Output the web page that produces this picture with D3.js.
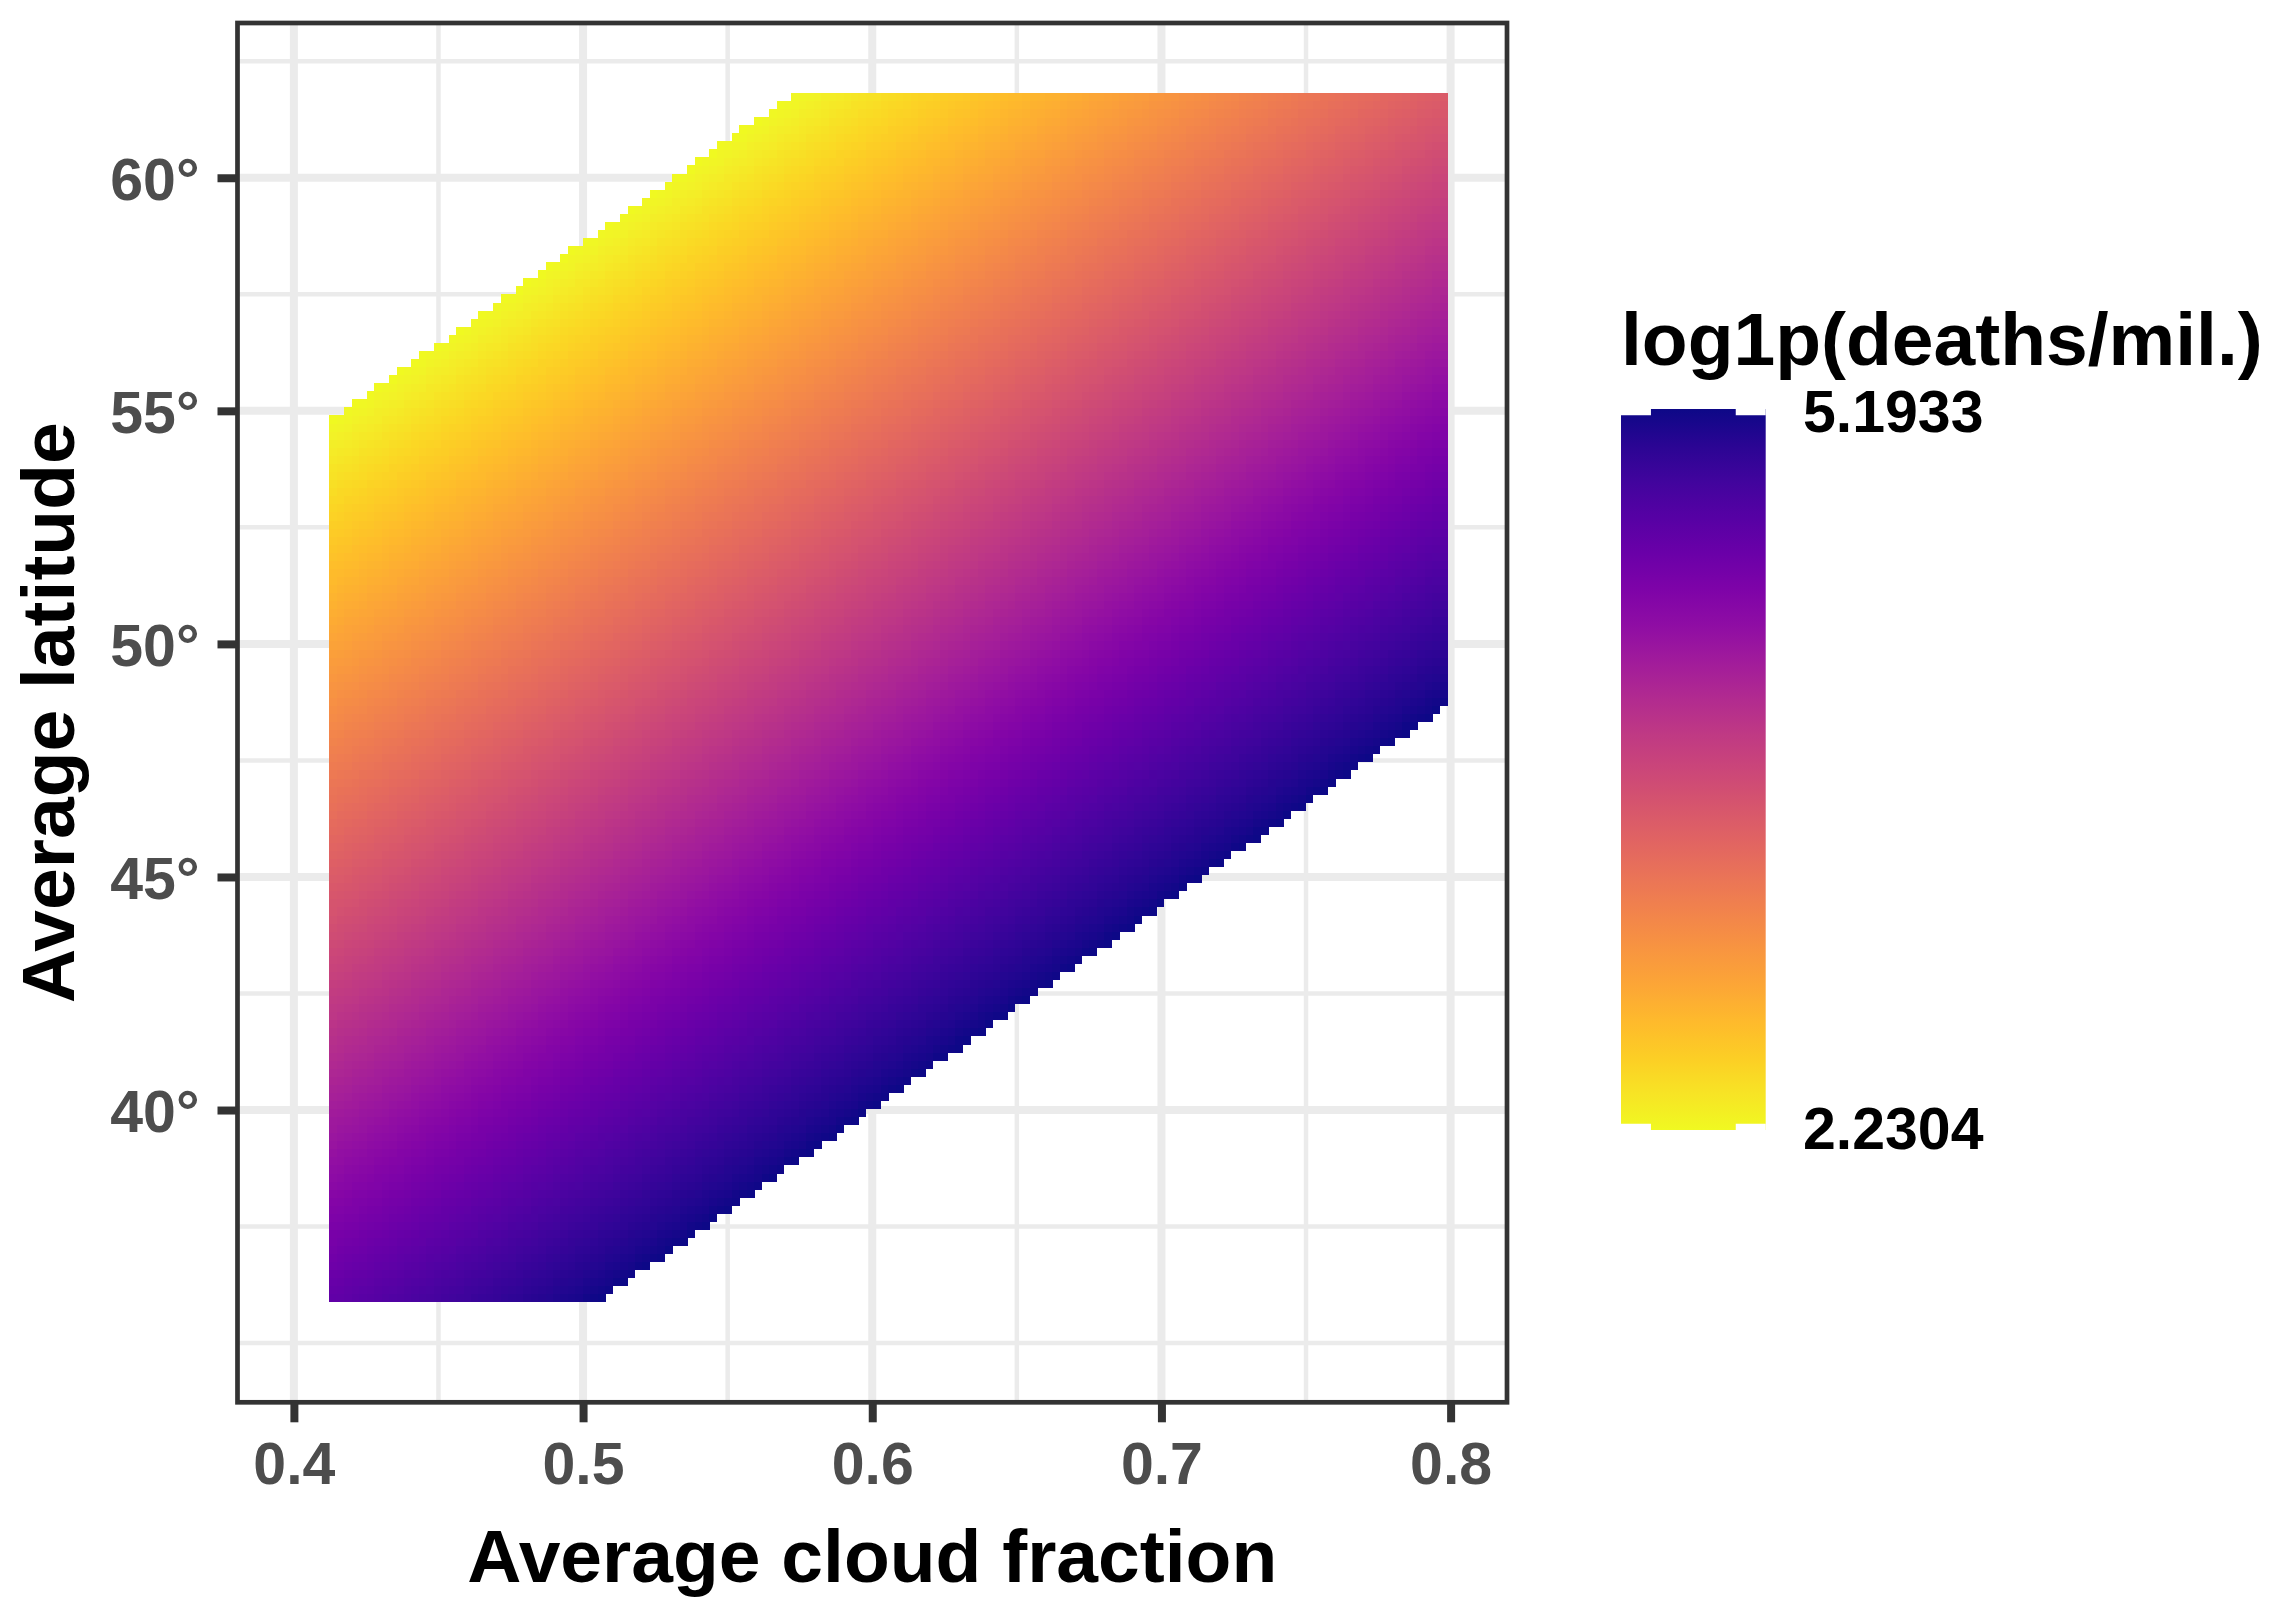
<!DOCTYPE html>
<html>
<head>
<meta charset="utf-8">
<script src="https://cdn.jsdelivr.net/npm/d3@7"></script>
<style>
  html, body { margin: 0; padding: 0; background: #ffffff; }
  svg { display: block; }
  text { font-family: "Liberation Sans", Arial, Helvetica, sans-serif; }
</style>
</head>
<body>
<svg id="chart" width="2280" height="1615"></svg>
<script>
// ---------------- data ----------------
// prediction grid extent (cell edges) and resolution
const cloudExtent = [0.4123, 0.7988];
const latitudeExtent = [35.88, 61.82];
const gridCells = [150, 150];               // columns (cloud), rows (latitude)
// fitted surface: intercept, cloud-fraction slope, latitude slope
const surfaceCoefficients = [6.9753, 5.628, -0.12893];
// colour-bar limits (observed range of log1p(deaths/mil.))
const valueLimits = [2.2304, 5.1933];
const legendLabels = ["5.1933", "2.2304"];
// axis ticks
const xTicks = [0.4, 0.5, 0.6, 0.7, 0.8];
const xMinor = [0.45, 0.55, 0.65, 0.75];
const yTicks = [40, 45, 50, 55, 60];
const yMinor = [35, 37.5, 42.5, 47.5, 52.5, 57.5, 62.5];
const xTitle = "Average cloud fraction";
const yTitle = "Average latitude";
const legendTitle = "log1p(deaths/mil.)";

// ---------------- layout ----------------
const panel = { left: 237.5, right: 1507, top: 23, bottom: 1402.3 };
const svg = d3.select("#chart");

const x = d3.scaleLinear().domain([0.3805, 0.8195]).range([panel.left, panel.right]);
const y = d3.scaleLinear().domain([33.73, 63.32]).range([panel.bottom, panel.top]);
const color = d3.scaleSequential(d3.interpolatePlasma).domain([valueLimits[1], valueLimits[0]]);

const GRID = "#EBEBEB", DARK = "#333333";

// grid lines
const g = svg.append("g");
g.selectAll(".vmin").data(xMinor).join("line")
  .attr("x1", d => x(d)).attr("x2", d => x(d))
  .attr("y1", panel.top).attr("y2", panel.bottom)
  .attr("stroke", GRID).attr("stroke-width", 4.5);
g.selectAll(".hmin").data(yMinor).join("line")
  .attr("y1", d => y(d)).attr("y2", d => y(d))
  .attr("x1", panel.left).attr("x2", panel.right)
  .attr("stroke", GRID).attr("stroke-width", 4.5);
g.selectAll(".vmaj").data(xTicks).join("line")
  .attr("x1", d => x(d)).attr("x2", d => x(d))
  .attr("y1", panel.top).attr("y2", panel.bottom)
  .attr("stroke", GRID).attr("stroke-width", 8);
g.selectAll(".hmaj").data(yTicks).join("line")
  .attr("y1", d => y(d)).attr("y2", d => y(d))
  .attr("x1", panel.left).attr("x2", panel.right)
  .attr("stroke", GRID).attr("stroke-width", 8);

// raster cells
const [nx, ny] = gridCells;
const dx = (cloudExtent[1] - cloudExtent[0]) / nx;
const dy = (latitudeExtent[1] - latitudeExtent[0]) / ny;
const [b0, b1, b2] = surfaceCoefficients;
const cells = [];
for (let i = 0; i < nx; i++) {
  for (let j = 0; j < ny; j++) {
    const cx = cloudExtent[0] + (i + 0.5) * dx;
    const cy = latitudeExtent[0] + (j + 0.5) * dy;
    const v = b0 + b1 * cx + b2 * cy;
    if (v >= valueLimits[0] - 1e-6 && v <= valueLimits[1] + 1e-6) {
      cells.push({ x0: cloudExtent[0] + i * dx, x1: cloudExtent[0] + (i + 1) * dx,
                   y0: latitudeExtent[0] + j * dy, y1: latitudeExtent[0] + (j + 1) * dy, v });
    }
  }
}
svg.append("g").attr("shape-rendering", "crispEdges")
  .selectAll("rect").data(cells).join("rect")
  .attr("x", d => x(d.x0))
  .attr("y", d => y(d.y1))
  .attr("width", d => x(d.x1) - x(d.x0) + 0.4)
  .attr("height", d => y(d.y0) - y(d.y1) + 0.4)
  .attr("fill", d => color(d.v));

// panel border
svg.append("rect")
  .attr("x", panel.left).attr("y", panel.top)
  .attr("width", panel.right - panel.left).attr("height", panel.bottom - panel.top)
  .attr("fill", "none").attr("stroke", DARK).attr("stroke-width", 4.7);

// axes
const xAxis = d3.axisBottom(x).tickValues(xTicks).tickSize(20).tickPadding(18)
  .tickFormat(d3.format(".1f"));
const xg = svg.append("g").attr("transform", `translate(0,${panel.bottom})`).call(xAxis);
const yAxis = d3.axisLeft(y).tickValues(yTicks).tickSize(20).tickPadding(18)
  .tickFormat(d => d + "°");
const yg = svg.append("g").attr("transform", `translate(${panel.left},0)`).call(yAxis);
[xg, yg].forEach(a => {
  a.select(".domain").remove();
  a.selectAll(".tick line").attr("stroke", DARK).attr("stroke-width", 8);
  a.selectAll(".tick text").attr("fill", "#4D4D4D")
    .style("font-size", "59px").style("font-weight", "bold")
    .style("font-family", '"Liberation Sans", Arial, sans-serif');
});
xg.selectAll(".tick text").attr("dy", null).attr("y", 0)
  .attr("dominant-baseline", "alphabetic").attr("transform", "translate(0,82)");
yg.selectAll(".tick text").attr("dy", "0.36em");

// axis titles
svg.append("text").text(xTitle)
  .attr("x", (panel.left + panel.right) / 2).attr("y", 1582)
  .attr("text-anchor", "middle").style("font-size", "75px").style("font-weight", "bold");
svg.append("text").text(yTitle)
  .attr("transform", `translate(74,${(panel.top + panel.bottom) / 2}) rotate(-90)`)
  .attr("text-anchor", "middle").style("font-size", "75px").style("font-weight", "bold");

// legend
const bar = { left: 1621, right: 1765.7, top: 409, bottom: 1130 };
svg.append("text").text(legendTitle)
  .attr("x", bar.left).attr("y", 365)
  .style("font-size", "75px").style("font-weight", "bold");

const defs = svg.append("defs");
const grad = defs.append("linearGradient").attr("id", "cbar")
  .attr("x1", 0).attr("x2", 0).attr("y1", 0).attr("y2", 1);
d3.range(0, 1.0001, 0.05).forEach(t => {
  grad.append("stop").attr("offset", t)
    .attr("stop-color", color(valueLimits[1] - t * (valueLimits[1] - valueLimits[0])));
});
svg.append("rect")
  .attr("x", bar.left).attr("y", bar.top)
  .attr("width", bar.right - bar.left).attr("height", bar.bottom - bar.top)
  .attr("fill", "url(#cbar)");
// white tick marks at the limits
const lScale = d3.scaleLinear().domain([valueLimits[1], valueLimits[0]]).range([bar.top + 2, bar.bottom - 2]);
const bw = bar.right - bar.left;
[valueLimits[1], valueLimits[0]].forEach(v => {
  [[bar.left, bar.left + bw * 0.207], [bar.right - bw * 0.207, bar.right]].forEach(([a, b]) => {
    svg.append("line").attr("x1", a).attr("x2", b)
      .attr("y1", lScale(v)).attr("y2", lScale(v))
      .attr("stroke", "#ffffff").attr("stroke-width", 8.5);
  });
});
svg.selectAll(".leglab").data([valueLimits[1], valueLimits[0]]).join("text")
  .text((d, i) => legendLabels[i])
  .attr("x", 1803).attr("y", d => lScale(d)).attr("dy", "0.36em")
  .style("font-size", "59px").style("font-weight", "bold").attr("fill", "#000000");
</script>
</body>
</html>
